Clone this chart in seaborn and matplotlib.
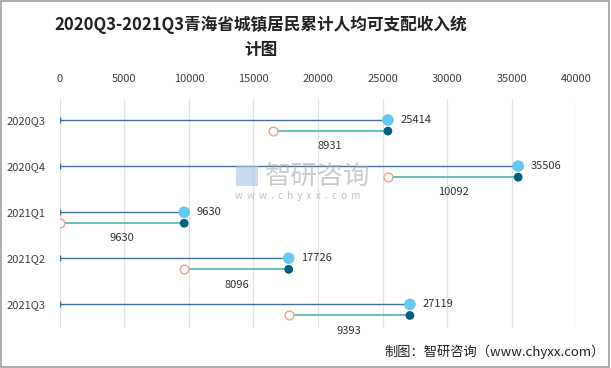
import numpy as np
import pandas as pd
import matplotlib
matplotlib.use('Agg')
import matplotlib.pyplot as plt
from matplotlib.patches import Rectangle
import seaborn as sns

# data
quarters = ['2020Q3', '2020Q4', '2021Q1', '2021Q2', '2021Q3']
totals = [25414, 35506, 9630, 17726, 27119]
increments = [8931, 10092, 9630, 8096, 9393]

df = pd.DataFrame({'quarter': quarters, 'total': totals, 'inc': increments})
df['start'] = df['total'] - df['inc']
df['row'] = np.arange(len(df))
df['y_main'] = df['row'] - 0.12
df['y_inc'] = df['row'] + 0.12

sns.set_style('white')
plt.rcParams['font.family'] = ['Noto Sans CJK SC', 'DejaVu Sans']

fig = plt.figure(figsize=(6.11, 3.68), dpi=100)
ax = fig.add_axes([0.098, 0.109, 0.845, 0.622])

# main lines from 0 to total
ax.hlines(df['y_main'], 0, df['total'], color='#41719C', lw=1.0, zorder=2)
ax.scatter([0] * len(df), df['y_main'], marker='|', s=25, color='#41719C', lw=1, zorder=2)
# increment lines
ax.hlines(df['y_inc'], df['start'], df['total'], color='#4DB6AC', lw=1.2, zorder=2)

sns.scatterplot(data=df, x='total', y='y_main', s=70, color='#63C9F2', edgecolor='none', ax=ax, zorder=3)
sns.scatterplot(data=df, x='total', y='y_inc', s=40, color='#005F80', edgecolor='none', ax=ax, zorder=3)
sns.scatterplot(data=df, x='start', y='y_inc', s=40, color='white', edgecolor='#F2A08A', linewidth=1.0, ax=ax, zorder=3)

for _, r in df.iterrows():
    ax.text(r['total'] + 950, r['y_main'], f"{r['total']}", va='center', ha='left', fontsize=8, color='#333333')
    ax.text((r['start'] + r['total']) / 2, r['y_inc'] + 0.33, f"{r['inc']}", va='center', ha='center', fontsize=8, color='#333333')

ax.set_xlim(0, 40000)
ax.set_ylim(4.39, -0.576)
ax.set_xticks(range(0, 40001, 5000))
ax.xaxis.tick_top()
ax.set_yticks(df['y_main'])
ax.set_yticklabels(quarters)
ax.tick_params(axis='x', length=0, pad=11, labelsize=8, labelcolor='#404040')
ax.tick_params(axis='y', length=0, pad=10, labelsize=8, labelcolor='#404040')
ax.grid(axis='x', color='#E3E3E3', lw=0.9)
ax.set_axisbelow(True)
ax.set_xlabel('')
ax.set_ylabel('')
for s in ax.spines.values():
    s.set_visible(False)

fig.text(0.427, 0.898, '2020Q3-2021Q3青海省城镇居民累计人均可支配收入统\n计图', ha='center', va='center',
         fontsize=12, fontweight='bold', color='#222222', linespacing=1.5)

# watermark
fig.text(0.433, 0.52, '智研咨询', ha='left', va='center', fontsize=19, color='#A8A8A8', alpha=0.6)
fig.text(0.384, 0.468, 'w  w  w  .  c  h  y  x  x  .  c  o  m', ha='left', va='center', fontsize=7,
         color='#A8A8A8', alpha=0.7)
fig.patches.append(Rectangle((0.386, 0.495), 0.036, 0.055, transform=fig.transFigure,
                             facecolor='#A9C3E3', edgecolor='none', alpha=0.6))

fig.text(0.99, 0.043, '制图：智研咨询（www.chyxx.com）', ha='right', va='center', fontsize=9.5, color='#222222')

fig.patches.append(Rectangle((0.002, 0.003), 0.995, 0.993, transform=fig.transFigure,
                             fill=False, edgecolor='#A0A0A0', lw=1.2))

fig.savefig('out.png', dpi=100)
